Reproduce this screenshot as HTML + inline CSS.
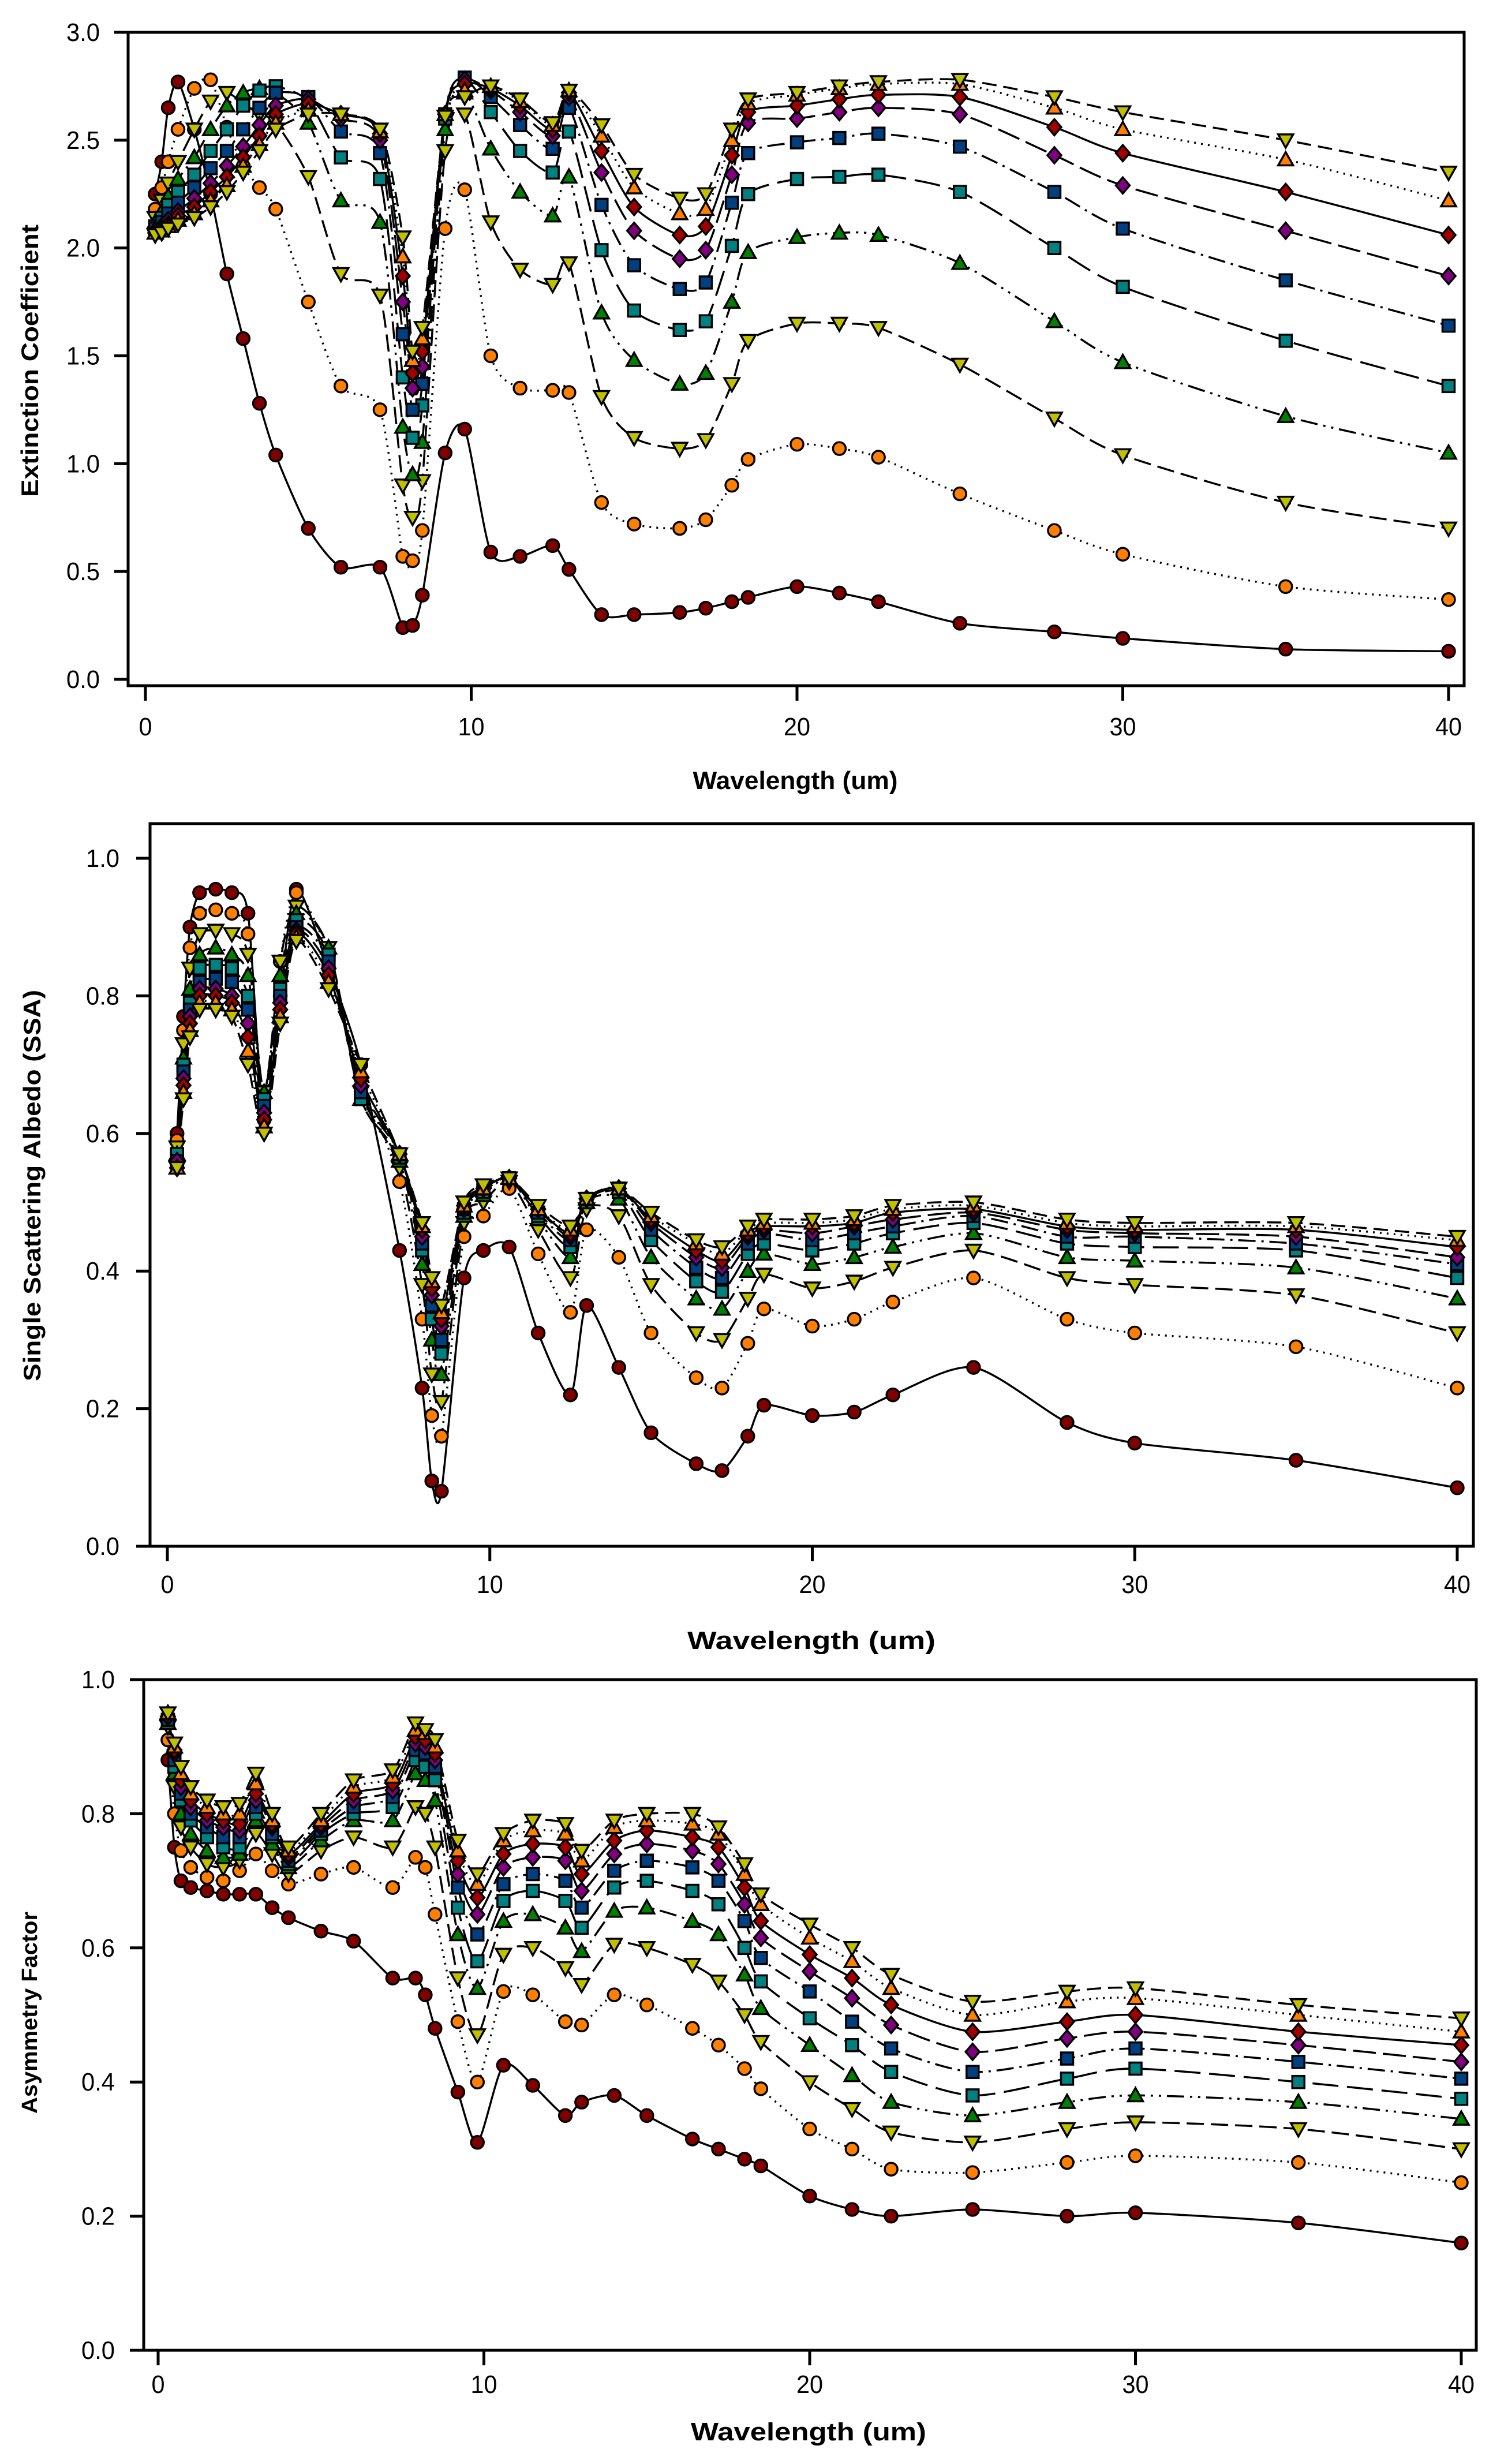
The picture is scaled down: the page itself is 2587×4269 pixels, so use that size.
<!DOCTYPE html>
<html><head><meta charset="utf-8">
<style>
html,body{margin:0;padding:0;background:#fff;}
svg{display:block;}
text{font-family:"Liberation Sans",sans-serif;fill:#000;}
.tick{font-size:44px;}
.title{font-size:44px;font-weight:bold;}
</style></head>
<body>
<svg id="chart" width="2587" height="4269" viewBox="0 0 2587 4269" xmlns="http://www.w3.org/2000/svg"></svg>
<script>
// ---- data (values per wavelength row: series 1..10, bottom to top) ----
const wavelengths = [0.3,0.5,0.7,1.0,1.5,2.0,2.5,3.0,3.5,4.0,5.0,6.0,7.2,7.9,8.2,8.5,9.2,9.8,10.6,11.5,12.5,13,14,15,16.4,17.2,18,18.5,20,21.3,22.5,25,27.9,30,35,40];
const seriesNames = ["s1","s2","s3","s4","s5","s6","s7","s8","s9","s10"];
const xTicks = [0,10,20,30,40];
const extTicks = ["0.0","0.5","1.0","1.5","2.0","2.5","3.0"];
const ssaTicks = ["0.0","0.2","0.4","0.6","0.8","1.0"];
const asyTicks = ["0.0","0.2","0.4","0.6","0.8","1.0"];
const extRows = [
[2.25,2.18,2.14,2.12,2.10,2.09,2.08,2.07,2.07,2.06],
[2.40,2.28,2.22,2.17,2.14,2.12,2.10,2.09,2.08,2.07],
[2.65,2.40,2.30,2.24,2.20,2.16,2.13,2.11,2.10,2.09],
[2.77,2.55,2.40,2.32,2.26,2.21,2.17,2.15,2.13,2.11],
[2.55,2.74,2.55,2.42,2.34,2.28,2.23,2.19,2.16,2.14],
[2.25,2.78,2.68,2.55,2.45,2.37,2.30,2.26,2.22,2.19],
[1.88,2.56,2.72,2.66,2.55,2.45,2.38,2.33,2.29,2.26],
[1.58,2.38,2.67,2.72,2.66,2.55,2.47,2.42,2.38,2.35],
[1.28,2.28,2.62,2.74,2.73,2.65,2.57,2.52,2.48,2.45],
[1.04,2.18,2.58,2.72,2.75,2.72,2.66,2.62,2.58,2.55],
[0.70,1.75,2.33,2.58,2.68,2.70,2.69,2.67,2.64,2.62],
[0.52,1.36,1.88,2.22,2.42,2.54,2.60,2.62,2.62,2.62],
[0.52,1.25,1.78,2.12,2.32,2.44,2.50,2.53,2.54,2.55],
[0.24,0.57,0.90,1.17,1.40,1.60,1.75,1.87,1.96,2.05],
[0.25,0.55,0.75,0.95,1.12,1.25,1.35,1.42,1.48,1.52],
[0.39,0.69,0.92,1.10,1.27,1.37,1.45,1.52,1.58,1.63],
[1.05,2.09,2.45,2.55,2.60,2.62,2.62,2.62,2.62,2.61],
[1.16,2.27,2.62,2.72,2.78,2.79,2.78,2.76,2.73,2.70],
[0.59,1.50,2.12,2.46,2.63,2.70,2.73,2.74,2.75,2.75],
[0.57,1.35,1.90,2.26,2.45,2.57,2.63,2.66,2.68,2.69],
[0.62,1.34,1.83,2.15,2.35,2.46,2.52,2.55,2.57,2.58],
[0.51,1.33,1.93,2.33,2.54,2.65,2.70,2.72,2.73,2.73],
[0.30,0.82,1.31,1.70,1.99,2.20,2.35,2.45,2.52,2.57],
[0.30,0.72,1.12,1.48,1.71,1.92,2.08,2.19,2.28,2.34],
[0.31,0.70,1.07,1.37,1.62,1.81,1.95,2.06,2.16,2.23],
[0.33,0.74,1.11,1.42,1.66,1.84,1.99,2.10,2.18,2.25],
[0.36,0.90,1.37,1.75,2.01,2.21,2.34,2.43,2.50,2.55],
[0.38,1.02,1.57,1.98,2.25,2.44,2.58,2.63,2.67,2.69],
[0.43,1.09,1.65,2.05,2.32,2.49,2.60,2.66,2.71,2.72],
[0.40,1.07,1.65,2.07,2.33,2.51,2.63,2.69,2.74,2.75],
[0.36,1.03,1.63,2.06,2.34,2.53,2.65,2.71,2.76,2.77],
[0.26,0.86,1.46,1.93,2.26,2.47,2.62,2.70,2.76,2.78],
[0.22,0.69,1.21,1.66,2.00,2.26,2.43,2.56,2.65,2.70],
[0.19,0.58,1.04,1.47,1.82,2.09,2.29,2.44,2.55,2.63],
[0.14,0.43,0.82,1.22,1.57,1.85,2.08,2.26,2.41,2.50],
[0.13,0.37,0.70,1.05,1.36,1.64,1.87,2.06,2.22,2.35]];
const ssaRows = [
[.60,.59,.58,.57,.57,.56,.56,.55,.55,.55],
[.77,.75,.73,.71,.70,.69,.68,.67,.66,.65],
[.90,.87,.84,.81,.79,.78,.77,.76,.75,.74],
[.95,.92,.89,.86,.84,.82,.81,.80,.79,.78],
[.955,.925,.895,.87,.845,.825,.81,.80,.79,.78],
[.95,.92,.89,.86,.84,.82,.80,.79,.78,.77],
[.92,.89,.86,.83,.80,.78,.76,.74,.72,.70],
[.62,.65,.66,.66,.65,.64,.63,.62,.61,.60],
[.80,.85,.85,.83,.81,.80,.79,.78,.77,.76],
[.955,.95,.93,.92,.91,.90,.895,.89,.885,.88],
[.84,.86,.87,.87,.86,.85,.84,.83,.82,.81],
[.70,.68,.66,.65,.65,.66,.67,.68,.69,.70],
[.43,.53,.55,.56,.565,.57,.57,.57,.57,.57],
[.23,.33,.38,.41,.43,.44,.45,.46,.465,.47],
[.095,.19,.25,.30,.33,.35,.365,.375,.385,.39],
[.08,.16,.21,.25,.28,.30,.32,.33,.34,.35],
[.39,.45,.47,.48,.485,.49,.49,.495,.495,.50],
[.43,.48,.50,.51,.515,.52,.52,.52,.52,.525],
[.435,.52,.53,.535,.535,.535,.535,.535,.535,.535],
[.31,.425,.46,.475,.48,.485,.49,.49,.49,.495],
[.22,.34,.39,.42,.435,.445,.45,.455,.46,.465],
[.35,.46,.49,.50,.50,.505,.505,.505,.505,.505],
[.26,.42,.48,.505,.515,.52,.52,.52,.52,.52],
[.165,.31,.38,.42,.445,.46,.47,.475,.48,.485],
[.12,.245,.31,.36,.385,.405,.42,.43,.44,.445],
[.11,.23,.30,.345,.37,.39,.405,.415,.425,.435],
[.16,.295,.36,.40,.425,.44,.45,.455,.46,.465],
[.205,.345,.395,.425,.44,.455,.46,.465,.47,.475],
[.19,.32,.375,.41,.43,.445,.455,.465,.47,.475],
[.195,.33,.385,.42,.44,.455,.465,.47,.475,.48],
[.22,.355,.405,.435,.455,.465,.475,.485,.49,.495],
[.26,.39,.43,.455,.47,.48,.485,.49,.495,.50],
[.18,.33,.39,.42,.44,.45,.46,.465,.47,.475],
[.15,.31,.38,.415,.435,.45,.455,.46,.465,.47],
[.125,.29,.365,.405,.43,.44,.45,.46,.465,.47],
[.085,.23,.31,.36,.39,.41,.42,.435,.445,.45]];
const asyRows = [
[.88,.91,.93,.935,.94,.94,.945,.945,.95,.95],
[.75,.80,.84,.86,.87,.88,.89,.895,.90,.905],
[.70,.745,.78,.80,.82,.83,.84,.85,.86,.87],
[.69,.72,.75,.77,.79,.80,.81,.82,.83,.84],
[.685,.705,.725,.745,.765,.78,.79,.80,.81,.82],
[.68,.70,.72,.735,.75,.765,.78,.79,.80,.81],
[.68,.715,.73,.74,.75,.765,.775,.785,.80,.815],
[.68,.74,.77,.79,.80,.81,.82,.83,.845,.86],
[.66,.715,.74,.755,.765,.77,.78,.785,.79,.80],
[.645,.695,.71,.72,.725,.73,.735,.74,.745,.75],
[.625,.71,.745,.76,.77,.775,.78,.785,.79,.80],
[.61,.72,.765,.79,.80,.81,.82,.83,.84,.85],
[.555,.69,.75,.79,.81,.825,.835,.845,.855,.865],
[.555,.735,.81,.86,.88,.895,.905,.915,.925,.935],
[.53,.72,.80,.85,.87,.89,.90,.91,.92,.925],
[.48,.65,.75,.82,.85,.87,.88,.89,.90,.91],
[.385,.49,.555,.62,.66,.69,.71,.73,.745,.76],
[.31,.40,.47,.54,.58,.62,.65,.675,.695,.71],
[.425,.535,.59,.64,.67,.695,.72,.74,.76,.77],
[.395,.53,.60,.65,.685,.71,.735,.755,.775,.79],
[.35,.49,.57,.63,.67,.70,.73,.75,.77,.785],
[.37,.485,.545,.595,.63,.66,.685,.71,.73,.745],
[.38,.53,.605,.655,.69,.715,.74,.76,.78,.79],
[.35,.515,.60,.66,.70,.73,.755,.775,.79,.80],
[.315,.48,.575,.64,.685,.72,.745,.765,.785,.80],
[.30,.455,.55,.62,.665,.70,.725,.75,.77,.78],
[.285,.42,.50,.56,.60,.64,.665,.69,.71,.725],
[.275,.39,.46,.51,.55,.585,.615,.64,.665,.68],
[.23,.33,.40,.455,.495,.535,.565,.59,.615,.635],
[.21,.30,.36,.41,.455,.49,.525,.555,.58,.60],
[.20,.27,.325,.37,.415,.45,.485,.515,.54,.56],
[.21,.265,.31,.35,.38,.415,.445,.475,.50,.52],
[.20,.28,.33,.37,.405,.435,.465,.49,.52,.535],
[.205,.29,.34,.38,.42,.45,.475,.50,.525,.54],
[.19,.28,.33,.37,.40,.43,.455,.475,.50,.515],
[.16,.25,.30,.345,.375,.405,.43,.455,.475,.495]];

// ---- styles ----
const colors = ["#800000","#ff8000","#c0c000","#008000","#008080","#004080","#800080","#a00000","#ff8000","#c0c000"];
const markers = ["circle","circle","tdown","tup","square","square","diamond","diamond","tup","tdown"];
const dashes = ["", "3,9", "30,12", "30,10,4,10,4,10", "45,15", "30,10,4,10", "40,12", "", "3,9", "25,12"];

const NS = "http://www.w3.org/2000/svg";
const svg = document.getElementById("chart");
function mk(tag, attrs, parent){
  const e = document.createElementNS(NS, tag);
  for (const k in attrs) e.setAttribute(k, attrs[k]);
  (parent||svg).appendChild(e);
  return e;
}
function splinePath(pts){
  let d = "M" + pts[0][0].toFixed(1) + "," + pts[0][1].toFixed(1);
  for (let i=0;i<pts.length-1;i++){
    const p0=pts[i-1]||pts[i], p1=pts[i], p2=pts[i+1], p3=pts[i+2]||p2;
    const t=0.13;
    const c1=[p1[0]+(p2[0]-p0[0])*t, p1[1]+(p2[1]-p0[1])*t];
    const c2=[p2[0]-(p3[0]-p1[0])*t, p2[1]-(p3[1]-p1[1])*t];
    d += " C"+c1[0].toFixed(1)+","+c1[1].toFixed(1)+" "+c2[0].toFixed(1)+","+c2[1].toFixed(1)+" "+p2[0].toFixed(1)+","+p2[1].toFixed(1);
  }
  return d;
}
function marker(g, type, x, y, color){
  let e;
  if (type==="circle") e = mk("circle",{cx:x,cy:y,r:11},g);
  else if (type==="square") e = mk("rect",{x:x-10.5,y:y-10.5,width:21,height:21},g);
  else if (type==="diamond") e = mk("polygon",{points:`${x},${y-14} ${x+12},${y} ${x},${y+14} ${x-12},${y}`},g);
  else if (type==="tup") e = mk("polygon",{points:`${x},${y-13} ${x+13},${y+10} ${x-13},${y+10}`},g);
  else e = mk("polygon",{points:`${x-13},${y-10} ${x+13},${y-10} ${x},${y+13}`},g);
  e.setAttribute("fill", color);
  e.setAttribute("stroke", "#000");
  e.setAttribute("stroke-width", "3.5");
  
  
}

function panel(cfg){
  const g = mk("g",{});
  
  
  const xs = w => cfg.x0 + (w/40)*(cfg.x40-cfg.x0);
  const ys = v => cfg.yb + (v/cfg.ymax)*(cfg.yt-cfg.yb);
  for (let s=9;s>=0;s--){
    const sg = mk("g",{},g);
    
    
    const pts = wavelengths.map((w,i)=>[xs(w), ys(cfg.rows[i][s])]);
    const p = mk("path",{d:splinePath(pts),fill:"none",stroke:"#000","stroke-width":3.5},sg);
    if (dashes[s]) p.setAttribute("stroke-dasharray", dashes[s]);
    
    
  }
  for (let s=0;s<10;s++){
    const mg = mk("g",{},g);
    
    
    wavelengths.forEach((w,i)=>marker(mg, markers[s], xs(w), ys(cfg.rows[i][s]), colors[s]));
  }
  const fr = mk("rect",{x:cfg.fl,y:cfg.ft,width:cfg.fr-cfg.fl,height:cfg.fb-cfg.ft,fill:"none",stroke:"#000","stroke-width":5},g);
  
  
  xTicks.forEach(t=>{
    const x = xs(t);
    const l = mk("line",{x1:x,y1:cfg.fb,x2:x,y2:cfg.fb+26,stroke:"#000","stroke-width":5},g);
    
    
    const tx = mk("text",{x:x,y:cfg.xlab,"text-anchor":"middle",class:"tick",textLength:String(t).length*23,lengthAdjust:"spacingAndGlyphs"},g);
    tx.textContent = String(t);
    
    
  });
  cfg.yTicks.forEach(lab=>{
    const y = ys(parseFloat(lab));
    const l = mk("line",{x1:cfg.fl-24,y1:y,x2:cfg.fl,y2:y,stroke:"#000","stroke-width":5},g);
    
    
    const tx = mk("text",{x:cfg.ylabR,y:y+15,"text-anchor":"end",class:"tick",textLength:58,lengthAdjust:"spacingAndGlyphs"},g);
    tx.textContent = lab;
    
    
  });
  const xt = mk("text",{x:cfg.xtx,y:cfg.xty,"text-anchor":"middle",class:"title",textLength:cfg.xtw,lengthAdjust:"spacingAndGlyphs"},g);
  xt.textContent = "Wavelength (um)";
  
  
  const yt = mk("text",{x:0,y:0,"text-anchor":"middle",class:"title",textLength:cfg.ytw,lengthAdjust:"spacingAndGlyphs",transform:`translate(${cfg.ytx},${cfg.yty}) rotate(-90)`},g);
  yt.textContent = cfg.ytitle;
  yt.style.fontSize = cfg.ytfs + "px";
  
  
}

panel({name:"extinction-panel", rows:extRows, yTicks:extTicks, ymax:3,
  x0:252, x40:2510, yb:1177, yt:56, fl:222, fr:2537, ft:56, fb:1188,
  xlab:1274, ylabR:173, xtx:1378, xty:1367, xtw:355,
  ytitle:"Extinction Coefficient", ytx:66, yty:625, ytw:472, ytfs:42});
panel({name:"ssa-panel", rows:ssaRows, yTicks:ssaTicks, ymax:1,
  x0:290, x40:2525, yb:2679, yt:1487, fl:260, fr:2553, ft:1427, fb:2679,
  xlab:2760, ylabR:207, xtx:1406, xty:2857, xtw:430,
  ytitle:"Single Scattering Albedo (SSA)", ytx:70, yty:2054, ytw:678, ytfs:42});
panel({name:"asymmetry-panel", rows:asyRows, yTicks:asyTicks, ymax:1,
  x0:274, x40:2532, yb:4072, yt:2910, fl:249, fr:2558, ft:2910, fb:4072,
  xlab:4146, ylabR:199, xtx:1401, xty:4228, xtw:408,
  ytitle:"Asymmetry Factor", ytx:64, yty:3487, ytw:350, ytfs:38});
</script>
</body></html>
